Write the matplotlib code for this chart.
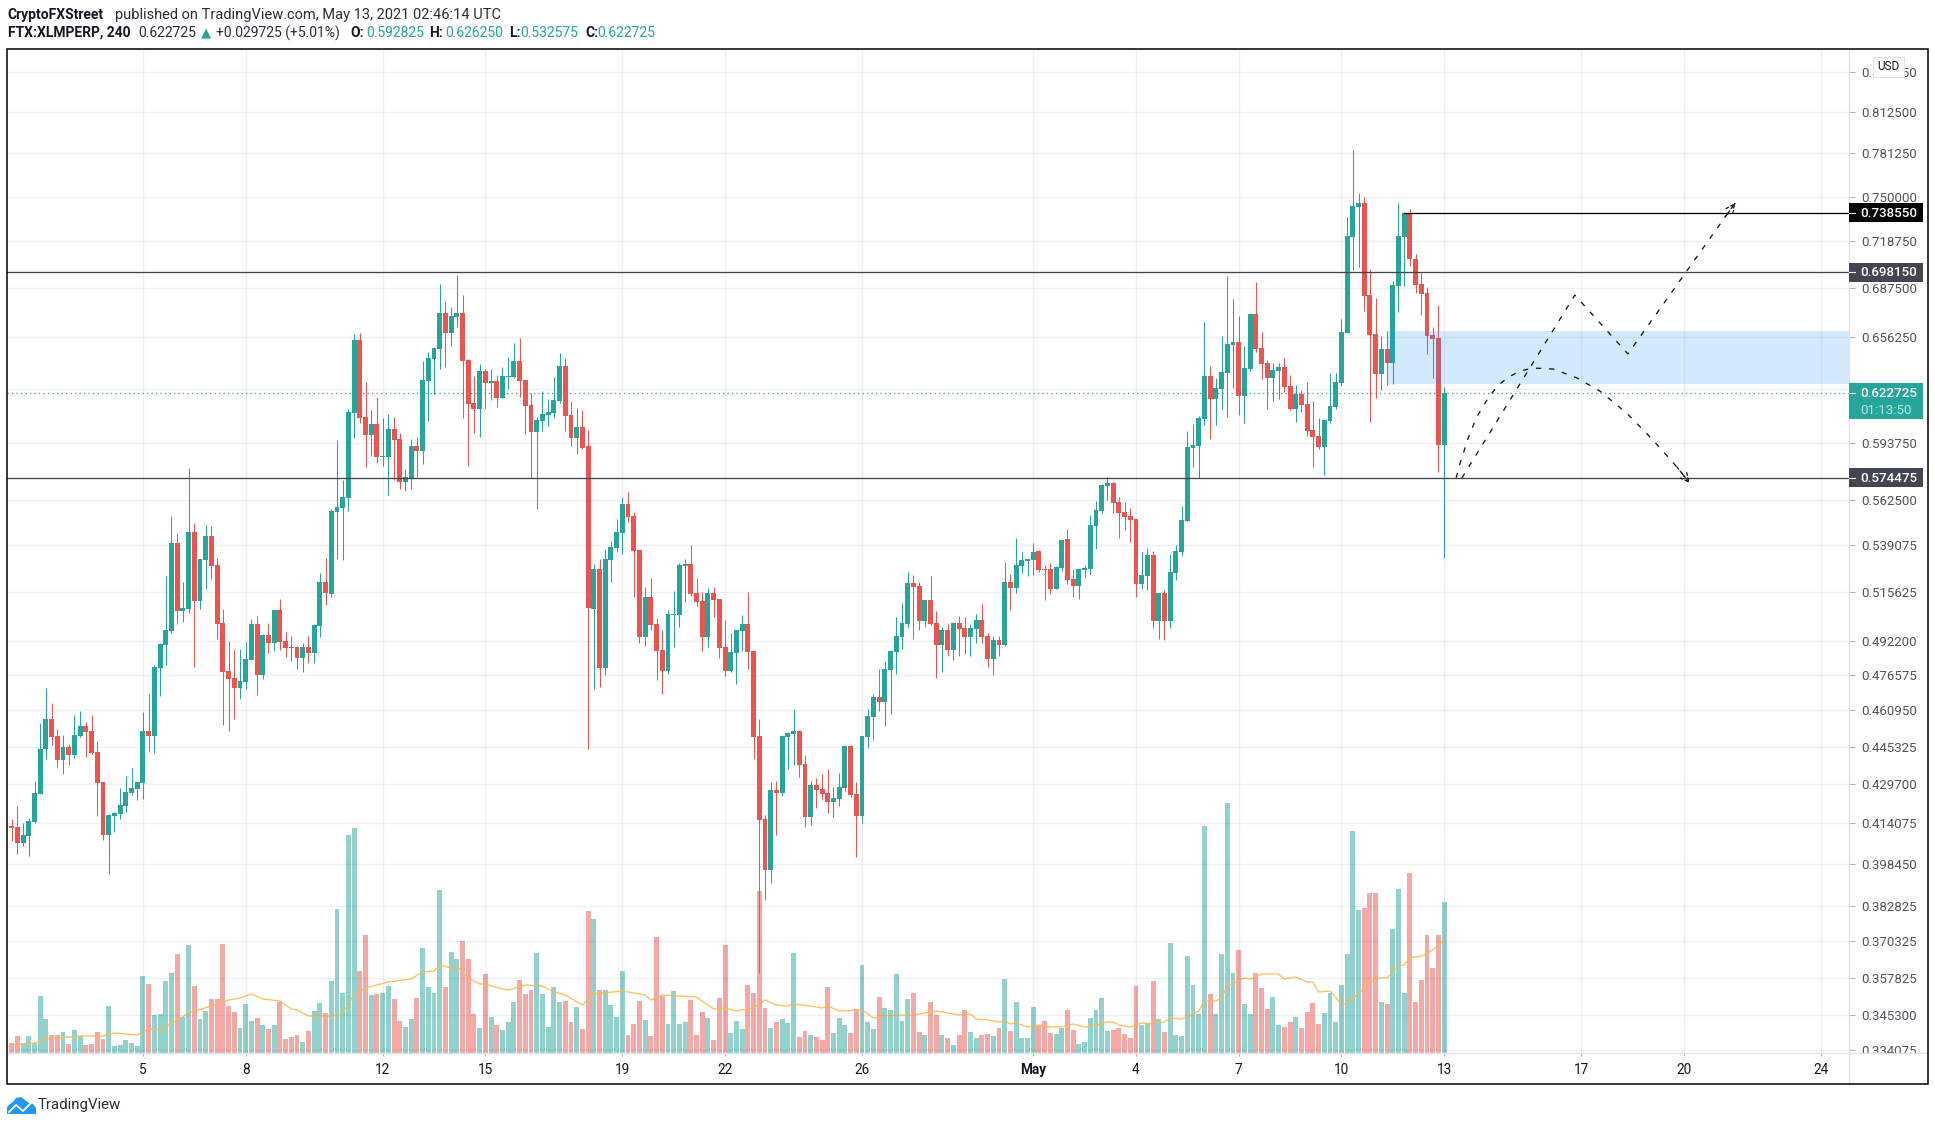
import matplotlib
matplotlib.use("Agg")
import matplotlib.pyplot as plt
from matplotlib.patches import Rectangle, Polygon
from matplotlib.lines import Line2D
from matplotlib.ticker import NullLocator

# ---------- data (4h candles) ----------
opens = [.4130,.4126,.4064,.4091,.4146,.4257,.4442,.4570,.4498,.4397,
.4451,.4417,.4498,.4540,.4519,.4430,.4306,.4094,.4170,.4177,
.4209,.4261,.4277,.4302,.4519,.4498,.4797,.4903,.4968,.5401,
.5063,.5073,.5458,.5111,.5314,.5437,.5289,.5006,.4783,.4752,
.4707,.4734,.4834,.5001,.4766,.4949,.4912,.5068,.4921,.4894,
.4894,.4843,.4894,.4866,.4992,.5204,.5145,.5562,.5583,.5636,
.6108,.6546,.6085,.5983,.6045,.5859,.5859,.6017,.5960,.5722,
.5744,.5920,.5892,.6297,.6430,.6491,.6716,.6590,.6691,.6716,
.6424,.6167,.6132,.6357,.6285,.6297,.6196,.6321,.6321,.6418,
.6303,.6155,.6000,.6062,.6097,.6108,.6178,.6387,.6097,.5965,
.6028,.5920,.5073,.5269,.4797,.5314,.5375,.5452,.5604,.5541,
.5365,.4940,.5131,.5001,.4880,.4783,.5044,.5044,.5284,.5294,
.5150,.5111,.4940,.5150,.5121,.4894,.4783,.4866,.4968,.5001,
.4875,.4498,.4158,.3961,.4273,.4261,.4494,.4506,.4519,.4380,
.4166,.4293,.4277,.4261,.4225,.4237,.4281,.4455,.4257,.4170,
.4494,.4579,.4667,.4645,.4788,.4870,.4940,.5001,.5199,.5185,
.5015,.5116,.5006,.4903,.4973,.4880,.5006,.4982,.4940,.4978,
.5020,.4945,.4838,.4926,.4903,.5204,.5175,.5284,.5309,.5314,
.5360,.5269,.5269,.5170,.5274,.5421,.5219,.5185,.5264,.5269,
.5489,.5567,.5700,.5717,.5615,.5562,.5541,.5525,.5194,.5234,
.5340,.5015,.5150,.5015,.5249,.5355,.5515,.5909,.5920,.6074,
.6327,.6190,.6249,.6345,.6515,.6534,.6207,.6369,.6710,.6497,
.6406,.6315,.6357,.6381,.6267,.6132,.6219,.6161,.6011,.5977,
.5915,.6062,.6144,.6285,.6590,.7217,.7425,.7454,.6831,.6584,
.6339,.6491,.6406,.6890,.7217,.7385,.7069,.6903,.6844,.6577,
.6559,.5928]
closes = [.4123,.4064,.4094,.4150,.4261,.4442,.4570,.4494,.4397,.4451,
.4417,.4502,.4540,.4515,.4426,.4302,.4094,.4173,.4181,.4213,
.4265,.4281,.4306,.4519,.4498,.4802,.4908,.4973,.5401,.5063,
.5078,.5458,.5111,.5319,.5437,.5284,.5001,.4779,.4748,.4707,
.4738,.4839,.5001,.4766,.4949,.4912,.5068,.4917,.4889,.4889,
.4843,.4894,.4866,.4996,.5204,.5150,.5567,.5588,.5641,.6114,
.6546,.6080,.5983,.6045,.5859,.5864,.6017,.5954,.5722,.5749,
.5920,.5892,.6303,.6436,.6497,.6716,.6590,.6697,.6716,.6418,
.6161,.6132,.6357,.6285,.6297,.6196,.6327,.6327,.6418,.6297,
.6149,.6000,.6068,.6103,.6114,.6184,.6387,.6091,.5965,.6028,
.5909,.5078,.5269,.4797,.5319,.5380,.5458,.5604,.5535,.5360,
.4940,.5131,.4996,.4875,.4783,.5049,.5049,.5289,.5294,.5145,
.5106,.4940,.5150,.5116,.4889,.4783,.4870,.4973,.5001,.4870,
.4494,.4154,.3961,.4273,.4261,.4498,.4510,.4519,.4376,.4166,
.4293,.4273,.4257,.4225,.4241,.4285,.4455,.4253,.4170,.4498,
.4584,.4667,.4645,.4792,.4875,.4945,.5006,.5199,.5180,.5015,
.5116,.5001,.4903,.4973,.4880,.5006,.4978,.4940,.4982,.5020,
.4940,.4838,.4926,.4903,.5204,.5175,.5289,.5314,.5319,.5355,
.5264,.5264,.5170,.5279,.5416,.5214,.5185,.5269,.5274,.5494,
.5572,.5706,.5717,.5609,.5556,.5535,.5520,.5194,.5239,.5340,
.5015,.5150,.5015,.5254,.5360,.5520,.5915,.5926,.6080,.6327,
.6190,.6255,.6351,.6521,.6534,.6207,.6375,.6710,.6491,.6400,
.6315,.6363,.6381,.6261,.6132,.6219,.6155,.6005,.5971,.5915,
.6068,.6149,.6291,.6596,.7224,.7432,.7454,.6825,.6577,.6339,
.6491,.6406,.6896,.7224,.7385,.7069,.6896,.6838,.6571,.6552,
.5926,.6227]
highs = [.4158,.4209,.4142,.4162,.4310,.4553,.4707,.4641,.4527,.4502,
.4464,.4588,.4606,.4557,.4588,.4476,.4306,.4177,.4185,.4281,
.4330,.4363,.4306,.4601,.4680,.4811,.4912,.5234,.5541,.5452,
.5204,.5798,.5504,.5319,.5494,.5489,.5324,.5073,.4921,.4880,
.4885,.4917,.5025,.5039,.4954,.5006,.5068,.5121,.4963,.4945,
.4898,.4912,.4945,.5001,.5249,.5324,.5577,.5954,.5733,.6132,
.6584,.6590,.6291,.6126,.6196,.6080,.6103,.6085,.5994,.5793,
.5960,.5971,.6418,.6473,.6503,.6903,.6792,.6754,.6962,.6831,
.6430,.6327,.6400,.6369,.6369,.6333,.6381,.6442,.6528,.6559,
.6303,.6225,.6085,.6237,.6190,.6321,.6467,.6436,.6178,.6138,
.6126,.6011,.5294,.5319,.5370,.5411,.5525,.5641,.5668,.5562,
.5365,.5180,.5224,.5030,.4973,.5068,.5160,.5299,.5319,.5391,
.5224,.5155,.5175,.5180,.5121,.5020,.4959,.4973,.5044,.5155,
.4875,.4570,.4173,.4306,.4310,.4502,.4515,.4614,.4523,.4417,
.4310,.4322,.4339,.4359,.4285,.4343,.4455,.4459,.4306,.4498,
.4614,.4680,.4792,.4829,.4875,.5035,.5102,.5254,.5239,.5204,
.5116,.5234,.5063,.4987,.5001,.5011,.5039,.5035,.5001,.5049,
.5097,.4959,.4945,.4945,.5304,.5244,.5426,.5355,.5319,.5401,
.5365,.5289,.5299,.5284,.5416,.5473,.5269,.5269,.5289,.5546,
.5620,.5711,.5749,.5722,.5641,.5615,.5583,.5525,.5355,.5375,
.5360,.5150,.5165,.5345,.5391,.5593,.6005,.6045,.6091,.6659,
.6387,.6315,.6571,.6955,.6805,.6697,.6509,.6716,.6916,.6596,
.6424,.6406,.6406,.6436,.6333,.6273,.6243,.6291,.6178,.6080,
.6068,.6345,.6345,.6678,.7356,.7837,.7525,.7497,.7002,.6812,
.6571,.6603,.6922,.7454,.7385,.7411,.7103,.6975,.6884,.6628,
.6767,.6263]
lows = [.4071,.4022,.4052,.4014,.4142,.4257,.4401,.4459,.4368,.4339,
.4376,.4405,.4494,.4409,.4422,.4170,.4075,.3946,.4106,.4158,
.4185,.4253,.4233,.4237,.4430,.4426,.4672,.4811,.4959,.5001,
.5011,.5054,.4802,.5073,.5170,.5219,.4931,.4545,.4519,.4570,
.4658,.4703,.4834,.4676,.4748,.4866,.4875,.4880,.4848,.4829,
.4792,.4779,.4820,.4820,.4940,.5092,.5131,.5319,.5314,.5567,
.5965,.6051,.5804,.5864,.5826,.5809,.5652,.5733,.5684,.5674,
.5684,.5749,.5820,.6062,.6219,.6369,.6381,.6509,.6628,.6080,
.5809,.5994,.5971,.6138,.6184,.6144,.6196,.6249,.6315,.6202,
.5988,.5744,.5577,.6005,.6034,.6080,.6167,.6005,.5920,.5875,
.5903,.4442,.4703,.4711,.4766,.5204,.5355,.5345,.5509,.5131,
.4912,.4898,.4973,.4743,.4680,.4770,.4894,.4987,.5106,.5136,
.5087,.4875,.4894,.5035,.4843,.4761,.4779,.4725,.4875,.4792,
.4401,.3593,.3850,.3913,.4094,.4249,.4359,.4376,.4326,.4126,
.4134,.4201,.4233,.4181,.4166,.4209,.4269,.4245,.4010,.4142,
.4447,.4481,.4606,.4540,.4592,.4770,.4885,.4982,.4931,.4973,
.4987,.4996,.4752,.4779,.4852,.4834,.4852,.4861,.4852,.4912,
.4912,.4802,.4766,.4852,.4898,.5068,.5150,.5249,.5234,.5239,
.5254,.5116,.5145,.5170,.5259,.5194,.5131,.5121,.5224,.5239,
.5370,.5556,.5625,.5556,.5426,.5468,.5406,.5131,.5170,.5165,
.4982,.4931,.4926,.4982,.5214,.5335,.5515,.5804,.5744,.6040,
.5960,.6040,.6132,.6085,.6255,.6097,.6051,.6357,.6473,.6309,
.6132,.6178,.6190,.6231,.6126,.6057,.6114,.5977,.5804,.5903,
.5760,.6051,.6132,.6267,.6590,.6995,.7015,.6729,.6057,.6196,
.6243,.6273,.6279,.6722,.6890,.7022,.6844,.6703,.6461,.6315,
.5776,.5326]
volumes = [10,17,10,17,10,57,34,18,18,21,
9,23,17,8,9,21,14,47,7,8,
13,10,7,77,69,38,39,72,80,99,
36,108,67,34,42,54,54,109,47,41,
25,49,32,35,28,24,28,51,14,16,
18,11,22,42,50,40,72,144,60,218,
225,82,118,58,59,60,67,54,32,26,
34,55,105,66,60,163,66,101,94,112,
94,39,25,79,36,28,23,31,51,73,
59,63,100,59,26,66,51,52,31,46,
24,142,134,63,63,48,36,82,18,29,
52,33,17,116,57,29,62,29,31,53,
18,41,35,13,55,108,20,32,24,68,
60,162,45,25,31,34,30,100,16,22,
18,16,13,66,20,35,28,20,44,88,
31,24,56,45,43,79,32,54,60,21,
18,51,38,18,15,8,18,43,21,15,
18,19,17,25,74,22,51,15,15,46,
27,32,20,19,25,43,23,9,11,35,
43,55,22,23,25,19,15,67,28,30,
72,34,21,110,18,17,97,68,39,227,
59,39,99,250,80,103,49,39,80,65,
44,56,28,26,31,36,25,41,50,29,
40,60,31,68,99,222,143,145,160,160,
51,49,124,164,60,180,51,73,118,85,
118,151]
ma_bar = [0,4,6,10,12,16,18,22,24,26,29,31,35,38,40,42,44,47,49,50,52,56,58,60,62,66,70,72,74,75,77,78,80,82,83,
86,87,90,93,95,97,100,102,107,110,111,112,114,120,123,125,127,130,132,134,136,137,140,142,143,145,149,151,154,158,160,162,166,168,169,
171,173,174,175,176,178,180,182,184,186,188,190,192,193,194,196,198,200,202,203,205,208,209,211,212,213,216,217,219,222,223,225,227,228,229,231,233,234,237,239,241,243,244,245,247,249,251]
ma_vol = [8,10,14,16,17,17,20,18,24,23,33,40,47,53,55,59,54,52,44,43,37,37,40,58,65,71,74,81,82,88,85,87,75,69,69,
64,63,68,67,61,58,48,59,62,59,58,53,58,56,44,45,42,45,53,48,47,49,47,45,47,42,43,35,38,38,40,42,38,39,34,
33,31,32,29,30,26,28,26,26,29,26,28,31,31,28,26,30,29,31,35,34,42,52,52,55,67,75,74,79,79,74,76,71,71,61,62,49,49,65,75,75,87,88,95,97,103,113]

level_support = 0.574475
level_mid = 0.69815
level_top = 0.73855
last_price = 0.622725
zone_low, zone_high = 0.6279, 0.6603
zone_start_bar = 241
top_line_start_bar = 244

path_a_bar = [253.1,253.8,255.2,256.7,258.7,260.2,262,264.3,266.6,270.1,274.3,278.3,283,287.6,291.8,294]
path_a_price = [.5745,.5825,.5965,.6085,.6196,.6261,.6315,.6357,.6375,.6369,.6315,.6237,.6108,.5954,.5804,.5717]
path_b_bar = [254.1,273.9,283.2,300.2,302]
path_b_price = [.5744,.6831,.6461,.7354,.7454]

price_ticks = [.84375,.8125,.78125,.75,.71875,.6875,.65625,.625,.59375,.5625,.539075,.515625,.4922,
               .476575,.46095,.445325,.4297,.414075,.39845,.382825,.370325,.357825,.3453,.334075]
day_offsets = [0,3,7,10,14,17,21,26,29,32,35,38,42,45,49]
day_labels = ['5','8','12','15','19','22','26','May','4','7','10','13','17','20','24']
BARS_BEFORE_APR5 = 23
BARS_PER_DAY = 6

# ---------- layout helpers ----------
W, H = 1935, 1126
def fx(px): return px / W
def fy(px): return 1 - px / H
HEAD_FONT = 'Roboto'
HEAD_SIZE = 10.0

GREEN, RED = '#26a69a', '#ef5350'
AXLINE = '#e0e3eb'
TXT = '#131722'
GREY = '#50535e'

fig = plt.figure(figsize=(W/100, H/100), dpi=100, facecolor='white')
rect = [fx(7), fy(1053), fx(1849-7), (1053-49)/H]
ax = fig.add_axes(rect)
axv = ax.twinx()
ax.set_zorder(2); axv.set_zorder(1)
ax.patch.set_visible(False)
for a in (ax, axv):
    for s in a.spines.values():
        s.set_visible(False)

n = len(opens)
bars = list(range(n))
is_up = [c >= o for o, c in zip(opens, closes)]
colors = [GREEN if u else RED for u in is_up]

# volume pane
axv.bar(bars, volumes, width=0.86, color=colors, alpha=0.5, linewidth=0)
axv.plot(ma_bar, ma_vol, color='#ffb74d', alpha=0.85, lw=1.0, solid_joinstyle='round')
axv.set_ylim(0, 1004)
axv.set_yticks([])

# candles
ax.set_yscale('log')
ax.vlines(bars, lows, highs, colors=colors, lw=0.75, zorder=3)
tops = [max(o, c) for o, c in zip(opens, closes)]
bots = [min(o, c) for o, c in zip(opens, closes)]
ax.bar(bars, [t - b for t, b in zip(tops, bots)], bottom=bots, width=0.86,
       color=colors, linewidth=0, zorder=4)

ax.set_ylim(0.33313, 0.8625)
ax.set_xlim(-0.82, 321.94)

# horizontal levels, zone, last price
ax.axhline(level_mid, color='#434651', lw=0.95, zorder=5)
ax.axhline(level_support, color='#434651', lw=0.95, zorder=5)
ax.plot([top_line_start_bar, 321.94], [level_top, level_top], color='black', lw=0.95, zorder=5)
ax.axhline(last_price, color=GREEN, lw=0.9, ls=(0, (1, 2.6)), zorder=2.5)
ax.add_patch(Rectangle((zone_start_bar, zone_low), 321.94 - zone_start_bar, zone_high - zone_low,
                       facecolor='#2196f3', alpha=0.2, linewidth=0, zorder=6))

# hand-drawn dashed projections
dash = (0, (4, 6))
ax.plot(path_a_bar, path_a_price, color='#131722', lw=0.95, ls=dash, zorder=7)
ax.plot(path_b_bar, path_b_price, color='#131722', lw=0.95, ls=dash, zorder=7)
for bx, py in ((path_a_bar, path_a_price), (path_b_bar, path_b_price)):
    ax.annotate('', xy=(bx[-1], py[-1]), xytext=(bx[-2], py[-2]),
                arrowprops=dict(arrowstyle='->', mutation_scale=15, lw=0.95, color='#131722',
                                linestyle=(0, (2, 2)), shrinkA=0, shrinkB=0), zorder=7)

# axes ticks and grid
ax.yaxis.tick_right()
ax.set_yticks(price_ticks, [f'{v:.6f}' for v in price_ticks])
ax.yaxis.set_minor_locator(NullLocator())
ax.tick_params(axis='y', which='major', length=4, width=0.8, color='#b2b5be', pad=5,
               labelsize=9.5, labelcolor=GREY, left=False, right=True)
xticks = [BARS_BEFORE_APR5 + BARS_PER_DAY * d for d in day_offsets]
ax.set_xticks(xticks, day_labels)
ax.tick_params(axis='x', length=2.5, width=0.8, color='#b2b5be', pad=5, labelsize=9.8, labelcolor=TXT)
for lab in ax.get_xticklabels() + ax.get_yticklabels():
    lab.set_fontfamily('Roboto')
for lab in ax.get_xticklabels():
    if lab.get_text() == 'May':
        lab.set_fontweight('bold')
ax.grid(True, axis='both', color='black', alpha=0.06, lw=1.0, zorder=0)
ax.set_axisbelow(True)

fig.canvas.draw()

# frame and pane lines
fig.add_artist(Line2D([fx(7), fx(1928)], [fy(1053), fy(1053)], color=AXLINE, lw=1.0, zorder=3))
fig.add_artist(Line2D([fx(1849), fx(1849)], [fy(49), fy(1084)], color=AXLINE, lw=1.0, zorder=3))
# hide the clipped part of the lowest price label below the pane
fig.add_artist(Rectangle((fx(1851), fy(1084)), fx(76), (1084-1054)/H, facecolor='white', lw=0, zorder=4))
fig.add_artist(Rectangle((fx(7), fy(1084)), fx(1928-7), (1084-49)/H, fill=False, edgecolor='black', lw=1.1, zorder=9))

# price-scale tags
def price_px(v):
    return H - ax.transData.transform((0, v))[1]

def tag(v, face, top_off=9.5, bot_off=9.5, text=None):
    yc = price_px(v)
    fig.add_artist(Rectangle((fx(1849), fy(yc + bot_off)), fx(74), (top_off + bot_off)/H,
                             facecolor=face, edgecolor='none', zorder=6))
    fig.add_artist(Line2D([fx(1849), fx(1855)], [fy(yc), fy(yc)], color='white', lw=0.8, zorder=7))
    fig.text(fx(1860.5), fy(yc + 0.3), text or f'{v:.6f}', color='white', fontsize=9.6, family='Roboto',
             fontweight='medium', va='center', ha='left', zorder=7)

tag(level_top, '#000000')
tag(level_mid, '#434651')
tag(level_support, '#434651')
tag(last_price, GREEN, top_off=9.5, bot_off=26, text=f'{last_price:.6f}')
fig.text(fx(1860.5), fy(411), '01:13:50', color='#b5e6e0', fontsize=9.6, family='Roboto',
         va='center', ha='left', zorder=7)

# USD button
fig.add_artist(Rectangle((fx(1873), fy(77)), fx(31), 20/H, facecolor='white', edgecolor='#e0e3eb', lw=0.8, zorder=6))
fig.text(fx(1888.5), fy(66.5), 'USD', color=TXT, fontsize=8.5, family='Roboto', ha='center', va='center', zorder=7)

# header lines
def head(x, y, s, color=TXT, bold=False, size=HEAD_SIZE):
    fig.text(fx(x), fy(y), s, color=color, fontsize=size, family=HEAD_FONT,
             fontweight='bold' if bold else 'normal', va='center', ha='left')

head(7.5, 14.5, 'CryptoFXStreet', bold=True)
head(115, 14.5, 'published on TradingView.com, May 13, 2021 02:46:14 UTC', color='#2a2e39', size=10.55)
head(7.5, 33, 'FTX:XLMPERP, 240', bold=True)
head(138, 33, '0.622725', color='#2a2e39')
fig.text(fx(200.5), fy(33), '\u25b2', color=GREEN, fontsize=9.5, family='DejaVu Sans', va='center', ha='left')
head(216, 33, '+0.029725 (+5.01%)', color='#2a2e39')
for xl, xv, name, val in ((350, 366, 'O:', '0.592825'), (429, 445, 'H:', '0.626250'),
                          (509, 520, 'L:', '0.532575'), (585, 597, 'C:', '0.622725')):
    head(xl, 33, name, bold=True)
    head(xv, 33, val, color=GREEN)

# TradingView logo
cloud = [(7,1114),(7,1107),(10,1104),(13,1102),(16,1098),(21,1097),(25,1100),(29,1103),(33,1104),(36,1108),(36,1114)]
fig.add_artist(Polygon([(fx(a), fy(b)) for a, b in cloud], closed=True, facecolor='#2196f3', edgecolor='none', zorder=5))
fig.add_artist(Line2D([fx(a) for a in (9,16,23,31)], [fy(b) for b in (1112,1105,1111,1103)], color='white', lw=1.3, zorder=6))
fig.text(fx(38), fy(1105), 'TradingView', color='#2a2e39', fontsize=10.8, family='Roboto', va='center', ha='left')

fig.savefig('out.png', dpi=100, facecolor='white')
